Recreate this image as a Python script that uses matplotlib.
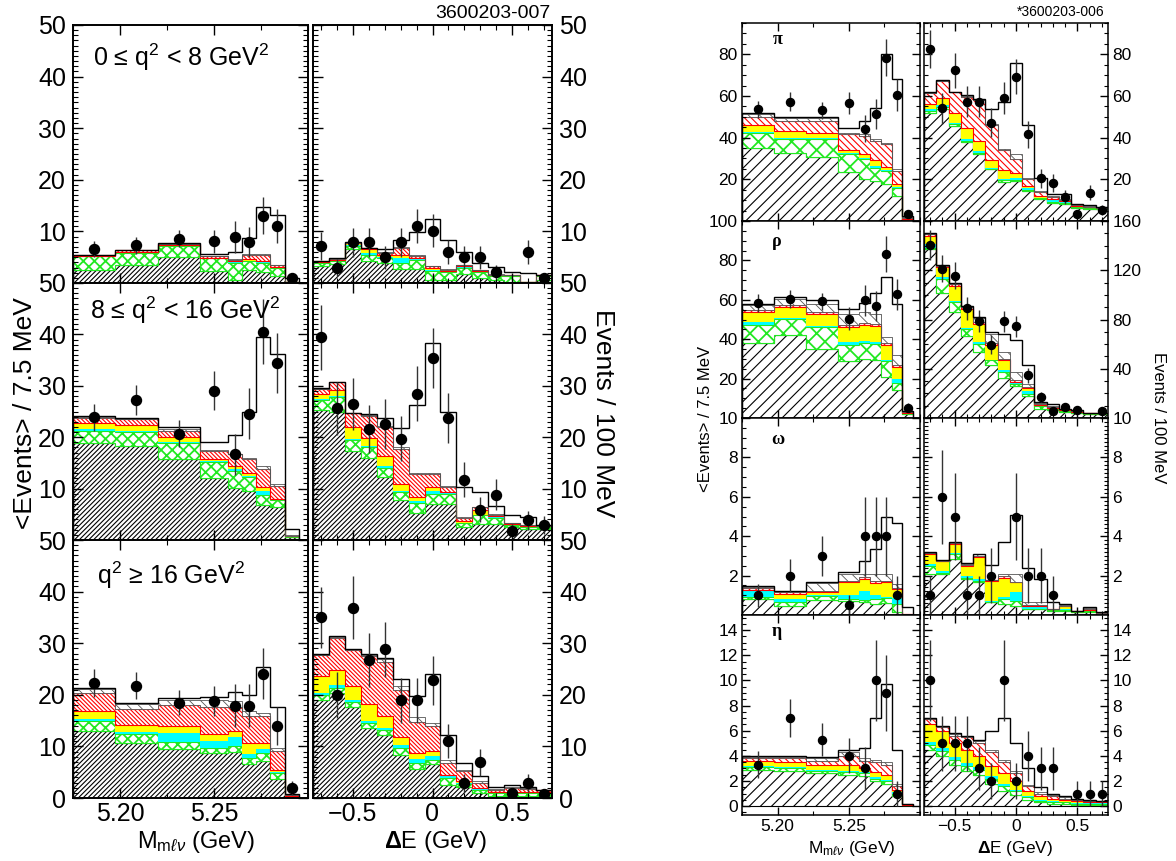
import numpy as np
import matplotlib
matplotlib.use("Agg")
import matplotlib.pyplot as plt
from matplotlib.ticker import MultipleLocator

plt.rcParams['font.family'] = ['Liberation Sans', 'DejaVu Sans']
plt.rcParams['mathtext.fontset'] = 'custom'
plt.rcParams['mathtext.rm'] = 'Liberation Sans'
plt.rcParams['mathtext.it'] = 'Liberation Sans:italic'
plt.rcParams['mathtext.bf'] = 'Liberation Sans:bold'
plt.rcParams['hatch.linewidth'] = 0.8

# -------------------------------
# binning
# -------------------------------
M_EDGES = [5.175, 5.1975, 5.22, 5.2425, 5.2575, 5.265, 5.2725, 5.28, 5.2875, 5.295]
DE_EDGES = [-0.75, -0.65, -0.55, -0.45, -0.35, -0.25, -0.15, -0.05,
            0.05, 0.15, 0.25, 0.35, 0.45, 0.55, 0.65, 0.75]

# stack tops, bottom to top: b->c, continuum/fakes (green), cyan, yellow, red, other signal
# ---- left figure: q^2 bins ----
LO_M_STACK = [
    [2.45, 3.4, 5.0, 2.3, 0.6, 2.5, 2.1, 1.3, 0.1],
    [5.2, 5.8, 7.1, 4.8, 3.9, 4.2, 3.9, 2.9, 0.1],
    [5.25, 5.9, 7.2, 4.85, 4.0, 4.35, 4.0, 2.95, 0.1],
    [5.3, 6.0, 7.3, 4.9, 4.2, 4.7, 4.3, 3.1, 0.1],
    [5.4, 6.3, 7.5, 5.2, 4.5, 5.5, 5.5, 3.4, 0.15],
    [5.45, 6.4, 7.6, 5.3, 4.6, 5.6, 5.6, 3.5, 0.2],
]
LO_M_TOTAL = [5.5, 6.45, 7.7, 5.7, 6.0, 8.7, 14.8, 13.1, 1.0]
LO_M_DATA = [6.6, 7.3, 8.6, 8.1, 9.0, 7.9, 13.0, 11.0, 1.0]
LO_M_ERR = [1.5, 1.6, 1.7, 2.2, 3.1, 2.9, 3.6, 3.3, 1.0]

LO_DE_STACK = [
    [3.2, 3.6, 6.5, 4.2, 3.9, 2.7, 2.7, 0.65, 0.65, 1.8, 1.0, 0.6, 0.1, 0.1, 0.6],
    [3.9, 4.2, 7.1, 5.5, 4.8, 3.9, 4.5, 2.3, 2.1, 3.0, 2.1, 1.3, 1.4, 0.1, 1.4],
    [4.0, 4.3, 7.4, 5.8, 5.0, 4.8, 4.6, 2.5, 2.2, 3.1, 2.2, 1.4, 1.45, 0.1, 1.45],
    [4.1, 4.5, 7.7, 6.5, 5.4, 5.5, 4.8, 2.9, 2.4, 3.2, 2.3, 1.5, 1.5, 0.1, 1.5],
    [4.2, 4.7, 7.8, 6.8, 5.8, 6.8, 5.3, 3.2, 2.6, 3.4, 2.5, 1.6, 1.55, 0.1, 1.55],
    [4.25, 4.75, 7.85, 6.8, 6.0, 6.9, 5.4, 3.3, 2.7, 3.5, 2.6, 1.7, 1.6, 0.15, 1.6],
]
LO_DE_TOTAL = [4.3, 4.8, 7.9, 6.8, 6.6, 8.3, 9.9, 12.4, 8.4, 6.1, 3.9, 3.1, 2.1, 1.9, 1.6]
LO_DE_DATA = [7.1, 3.0, 7.9, 7.9, 5.0, 7.9, 11.0, 10.1, 6.0, 5.0, 5.0, 2.1, np.nan, 6.0, 1.0]
LO_DE_ERR = [2.7, 1.7, 2.8, 2.8, 2.2, 2.8, 3.3, 3.2, 2.4, 2.2, 2.2, 1.4, 0, 2.4, 1.0]

MID_M_STACK = [
    [18.9, 18.3, 15.7, 12.1, 10.1, 9.5, 6.9, 6.4, 0.6],
    [21.3, 21.0, 18.9, 15.1, 13.5, 12.2, 8.7, 7.7, 0.6],
    [21.6, 21.2, 19.1, 15.4, 13.8, 12.5, 9.6, 8.0, 0.6],
    [22.7, 22.4, 20.1, 15.8, 14.4, 13.1, 10.4, 8.0, 0.8],
    [23.8, 23.5, 21.2, 17.3, 16.7, 15.7, 13.8, 10.6, 0.85],
    [24.0, 23.6, 21.6, 17.6, 16.8, 16.0, 14.4, 10.9, 0.9],
]
MID_M_TOTAL = [24.2, 23.7, 21.9, 19.0, 20.5, 24.9, 39.4, 36.2, 2.2]
MID_M_DATA = [23.9, 27.2, 20.7, 29.0, 16.7, 24.6, 40.5, 34.4, np.nan]
MID_M_ERR = [2.6, 2.9, 2.7, 3.8, 4.0, 5.0, 6.3, 5.8, 0]

MID_DE_STACK = [
    [25.3, 25.0, 17.3, 16.0, 12.2, 7.7, 5.3, 7.1, 7.1, 2.6, 3.2, 3.2, 2.6, 2.2, 2.2],
    [27.2, 27.9, 19.4, 18.0, 14.1, 9.4, 7.2, 9.0, 9.0, 3.3, 4.8, 4.3, 2.9, 2.6, 2.6],
    [27.4, 28.1, 19.7, 18.3, 14.4, 9.6, 7.6, 9.6, 9.1, 3.4, 4.9, 4.4, 3.0, 2.65, 2.65],
    [28.5, 29.2, 22.0, 19.9, 16.3, 10.8, 8.3, 10.3, 9.3, 3.6, 5.9, 4.6, 3.1, 2.7, 2.7],
    [29.3, 30.8, 24.7, 24.2, 22.0, 17.8, 12.9, 12.9, 10.4, 4.3, 6.4, 4.9, 3.3, 2.9, 2.8],
    [29.4, 30.8, 24.7, 24.3, 22.2, 18.0, 13.1, 13.0, 10.5, 4.4, 6.5, 5.0, 3.4, 3.0, 2.85],
]
MID_DE_TOTAL = [29.5, 30.8, 24.7, 24.5, 23.8, 21.8, 26.3, 38.3, 25.0, 10.4, 9.3, 6.7, 4.8, 4.4, 2.9]
MID_DE_DATA = [39.4, 25.6, 26.5, 21.6, 22.6, 19.7, 28.5, 35.4, 23.7, 11.7, 5.9, 8.8, 1.8, 3.8, 2.9]
MID_DE_ERR = [6.3, 5.1, 5.1, 4.6, 4.8, 4.4, 5.3, 5.9, 4.9, 3.4, 2.4, 3.0, 1.3, 1.9, 1.7]

HI_M_STACK = [
    [13.0, 10.6, 9.5, 8.7, 9.0, 6.5, 7.2, 3.7, 0.3],
    [15.0, 12.5, 10.8, 9.7, 10.0, 7.7, 8.7, 4.8, 0.35],
    [15.3, 12.7, 12.6, 11.0, 11.9, 8.5, 9.4, 5.1, 0.4],
    [16.8, 14.1, 13.9, 12.5, 12.9, 10.6, 10.6, 5.5, 0.45],
    [20.3, 17.3, 18.1, 17.7, 17.7, 15.8, 15.8, 9.2, 0.65],
    [21.2, 18.2, 19.0, 19.0, 18.8, 16.8, 16.5, 9.7, 0.75],
]
HI_M_TOTAL = [21.4, 18.5, 19.4, 19.5, 20.5, 20.0, 25.4, 17.7, 0.8]
HI_M_DATA = [22.3, 21.8, 18.5, 18.8, 17.9, 17.9, 24.1, 14.0, 1.9]
HI_M_ERR = [2.7, 2.7, 2.5, 3.0, 4.2, 4.2, 4.9, 3.7, 1.4]

HI_DE_STACK = [
    [19.0, 20.3, 17.7, 13.5, 12.3, 8.4, 5.6, 6.5, 2.6, 2.1, 1.0, 0.3, 0.3, 0.3, 0.3],
    [20.0, 21.3, 18.7, 14.5, 13.2, 9.7, 6.8, 7.4, 3.9, 2.8, 1.6, 1.0, 1.0, 1.0, 1.0],
    [20.3, 21.9, 18.9, 15.0, 13.5, 10.3, 7.6, 8.1, 4.2, 2.9, 1.7, 1.1, 1.1, 1.1, 1.1],
    [23.7, 24.8, 21.7, 18.2, 15.8, 11.9, 8.7, 9.2, 4.5, 3.2, 1.9, 1.2, 1.2, 1.2, 1.2],
    [27.7, 31.1, 28.7, 27.6, 26.3, 21.0, 14.8, 13.9, 6.8, 5.2, 2.9, 1.6, 1.9, 1.7, 1.6],
    [27.8, 31.2, 28.8, 27.8, 27.0, 21.7, 15.7, 14.5, 7.4, 5.4, 3.2, 1.8, 2.1, 1.9, 1.6],
]
HI_DE_TOTAL = [27.9, 31.3, 28.8, 27.9, 27.1, 23.0, 19.8, 24.1, 12.3, 6.8, 4.2, 2.1, 2.5, 2.1, 1.6]
HI_DE_DATA = [35.0, 20.0, 36.9, 26.8, 28.8, 18.9, 18.9, 22.8, 11.0, 2.9, 6.9, np.nan, 1.0, 2.9, 0.8]
HI_DE_ERR = [5.9, 4.5, 6.1, 5.2, 5.4, 4.3, 4.3, 4.8, 3.3, 1.7, 2.6, 0, 1.0, 1.7, 0.9]

# ---- right figure: signal modes ----
PI_M_STACK = [
    [34.9, 32.8, 30.9, 23.5, 20.3, 19.2, 17.6, 12.0, 0.8],
    [42.4, 39.5, 39.2, 32.0, 29.9, 25.6, 24.0, 16.0, 0.8],
    [42.9, 40.0, 39.6, 32.5, 30.4, 26.4, 24.5, 16.5, 0.8],
    [46.1, 43.2, 42.4, 33.9, 32.0, 29.1, 25.9, 17.6, 0.9],
    [50.1, 48.0, 48.0, 41.6, 40.8, 38.4, 36.8, 24.0, 1.6],
    [51.2, 49.6, 49.6, 42.1, 41.6, 39.2, 37.3, 25.1, 2.0],
]
PI_M_TOTAL = [51.7, 49.9, 49.9, 44.8, 48.0, 54.4, 80.3, 68.0, 2.4]
PI_M_DATA = [53.6, 57.3, 53.1, 56.8, 44.3, 51.2, 78.4, 60.3, 3.2]
PI_M_ERR = [4.2, 4.4, 4.2, 5.3, 6.6, 7.1, 8.9, 7.7, 1.8]

PI_DE_STACK = [
    [52.0, 53.9, 45.6, 37.9, 32.0, 24.8, 18.7, 19.2, 14.4, 10.4, 8.8, 8.0, 6.4, 5.9, 5.6],
    [52.8, 54.9, 46.4, 38.4, 32.8, 25.0, 19.5, 19.8, 15.0, 10.8, 9.3, 8.4, 6.7, 6.1, 5.8],
    [53.5, 55.5, 47.2, 39.2, 33.6, 25.6, 20.0, 20.8, 16.0, 11.2, 9.9, 8.9, 7.0, 6.3, 6.0],
    [56.3, 59.2, 52.0, 44.8, 38.4, 29.3, 24.5, 23.2, 16.8, 12.0, 10.4, 9.4, 7.3, 6.5, 6.1],
    [61.3, 67.2, 61.9, 59.5, 57.9, 45.9, 34.1, 29.9, 20.0, 13.9, 11.7, 9.9, 7.7, 6.9, 6.4],
    [61.6, 67.4, 61.9, 60.0, 58.2, 46.4, 34.7, 32.0, 20.8, 14.4, 12.2, 10.4, 8.0, 7.2, 6.6],
]
PI_DE_TOTAL = [61.9, 67.5, 61.9, 60.3, 58.4, 53.6, 57.1, 75.7, 45.9, 20.8, 12.8, 12.8, 8.3, 7.7, 6.7]
PI_DE_DATA = [82.4, 54.0, 72.3, 57.3, 57.3, 47.2, 59.2, 69.3, 41.6, 20.5, 18.4, 11.5, 3.5, 13.6, 5.3]
PI_DE_ERR = [9.1, 7.4, 8.5, 7.6, 7.6, 6.9, 7.7, 8.3, 6.4, 4.5, 4.3, 3.4, 1.9, 3.7, 2.3]

RHO_M_STACK = [
    [38.0, 42.2, 35.2, 28.8, 29.7, 29.2, 20.8, 14.2, 2.2],
    [47.2, 50.5, 46.3, 37.2, 38.0, 37.7, 28.8, 18.0, 2.3],
    [48.8, 51.0, 46.8, 38.5, 39.2, 38.5, 29.2, 19.7, 2.4],
    [53.8, 56.3, 53.0, 46.3, 47.2, 46.8, 37.2, 25.8, 2.7],
    [54.7, 57.2, 53.8, 47.2, 48.0, 47.5, 38.0, 26.8, 3.0],
    [57.2, 60.5, 58.0, 53.0, 53.8, 53.0, 41.3, 32.2, 3.3],
]
RHO_M_TOTAL = [58.0, 61.3, 59.7, 55.5, 58.3, 63.5, 71.8, 58.0, 3.5]
RHO_M_DATA = [58.3, 60.5, 59.2, 50.5, 59.7, 56.8, 83.3, 62.7, 5.2]
RHO_M_ERR = [4.4, 4.5, 4.4, 5.8, 7.7, 7.5, 9.1, 7.9, 2.3]

RHO_DE_STACK = [
    [137.3, 101.4, 85.9, 67.0, 53.5, 42.7, 32.4, 25.7, 17.8, 7.6, 6.2, 4.9, 4.1, 3.5, 3.5],
    [138.0, 113.0, 94.1, 72.4, 60.3, 46.8, 37.3, 27.8, 19.7, 9.5, 7.6, 5.5, 4.3, 3.6, 3.6],
    [141.4, 114.3, 95.4, 73.2, 61.6, 47.5, 38.6, 29.2, 21.6, 10.0, 7.9, 5.8, 4.5, 3.7, 3.7],
    [148.1, 122.4, 107.6, 88.6, 76.5, 59.5, 46.8, 29.6, 24.3, 10.5, 8.2, 6.2, 4.8, 3.8, 3.8],
    [149.5, 123.8, 108.9, 90.0, 77.8, 60.8, 48.1, 30.5, 25.1, 11.6, 8.9, 7.6, 5.4, 4.1, 4.3],
    [149.8, 124.1, 109.3, 90.4, 81.1, 68.4, 53.5, 37.3, 27.8, 12.4, 9.5, 7.6, 5.8, 4.1, 4.3],
]
RHO_DE_TOTAL = [150.0, 124.3, 109.7, 90.8, 81.9, 69.7, 68.4, 63.0, 43.2, 13.0, 11.6, 7.6, 6.2, 4.1, 4.3]
RHO_DE_DATA = [140.5, 121.1, 115.7, 89.2, 78.6, 59.5, 78.4, 74.6, 34.6, 17.0, 5.4, 8.9, 6.8, np.nan, 5.7]
RHO_DE_ERR = [11.9, 11.0, 10.8, 9.4, 8.9, 7.7, 8.9, 8.6, 5.9, 4.1, 2.3, 3.0, 2.6, 0, 2.4]

OMEGA_M_STACK = [
    [0.8, 0.47, 0.76, 0.73, 0.67, 0.56, 0.59, 0.13, 0.02],
    [0.9, 0.67, 0.98, 0.81, 0.75, 0.81, 0.85, 0.55, 0.02],
    [1.2, 0.8, 1.02, 1.0, 1.23, 1.0, 0.93, 0.84, 0.03],
    [1.28, 1.06, 1.15, 1.65, 1.85, 1.62, 1.65, 1.32, 0.04],
    [1.35, 1.15, 1.23, 1.74, 1.94, 1.74, 1.74, 1.37, 0.05],
    [1.43, 1.2, 1.6, 2.07, 2.07, 2.07, 2.07, 1.57, 0.06],
]
OMEGA_M_TOTAL = [1.48, 1.23, 1.69, 2.16, 2.75, 3.34, 5.0, 4.69, 0.39]
OMEGA_M_DATA = [1.0, 2.0, 3.0, 0.5, 4.0, 4.0, 4.0, 1.0, np.nan]
OMEGA_M_ERR = [0.58, 0.82, 1.0, 0.5, 2.0, 2.0, 2.0, 1.0, 0]

OMEGA_DE_STACK = [
    [2.1, 2.07, 2.83, 1.82, 1.65, 0.64, 0.56, 0.47, 0.3, 0.28, 0.22, 0.22, 0.15, 0.17, 0.1],
    [2.5, 2.15, 3.08, 1.9, 1.72, 0.68, 0.81, 0.73, 0.32, 0.3, 0.24, 0.24, 0.17, 0.19, 0.11],
    [2.6, 2.24, 3.15, 1.99, 1.82, 0.72, 0.89, 1.15, 0.39, 0.39, 0.27, 0.3, 0.22, 0.25, 0.12],
    [3.1, 2.75, 3.59, 2.5, 2.92, 1.74, 1.9, 1.65, 0.45, 0.45, 0.28, 0.44, 0.22, 0.27, 0.12],
    [3.15, 2.76, 3.68, 2.55, 2.97, 1.78, 1.99, 1.7, 0.5, 0.5, 0.3, 0.46, 0.22, 0.3, 0.12],
    [3.17, 2.77, 3.7, 2.6, 3.08, 1.8, 2.1, 2.07, 0.67, 0.64, 0.32, 0.5, 0.22, 0.35, 0.13],
]
OMEGA_DE_TOTAL = [3.2, 2.78, 3.71, 2.66, 3.12, 2.53, 3.71, 5.1, 2.41, 1.82, 0.64, 0.56, 0.22, 0.42, 0.13]
OMEGA_DE_DATA = [1, 6, 5, 1, 1, 2, np.nan, 5, 2, 2, 1, np.nan, np.nan, np.nan, np.nan]
OMEGA_DE_ERR = [1, 2.4, 2.2, 1, 1, 1.4, 0, 2.2, 1.4, 1.4, 1, 0, 0, 0, 0]

ETA_M_STACK = [
    [2.9, 2.8, 2.6, 2.5, 2.4, 2.0, 1.8, 0.8, 0.1],
    [3.1, 3.0, 2.8, 2.7, 2.6, 2.2, 2.0, 1.0, 0.1],
    [3.2, 3.1, 2.9, 2.8, 2.7, 2.3, 2.1, 1.1, 0.1],
    [3.6, 3.5, 3.3, 3.3, 3.0, 2.7, 2.5, 1.3, 0.1],
    [3.8, 3.8, 3.6, 4.0, 3.6, 3.5, 3.3, 1.6, 0.15],
    [3.95, 3.9, 3.8, 4.3, 3.8, 3.7, 3.5, 1.8, 0.2],
]
ETA_M_TOTAL = [4.0, 4.0, 3.9, 4.5, 4.6, 7.0, 9.7, 4.5, 0.2]
ETA_M_DATA = [3.3, 7.0, 5.3, 4.0, 3.0, 10.0, 9.0, 1.0, np.nan]
ETA_M_ERR = [1.05, 1.5, 1.3, 1.4, 1.7, 3.2, 3.0, 1.0, 0]

ETA_DE_STACK = [
    [4.5, 4.0, 3.3, 2.8, 2.5, 1.8, 1.2, 0.9, 0.5, 0.3, 0.2, 0.2, 0.1, 0.1, 0.1],
    [4.9, 4.4, 3.7, 3.2, 2.9, 2.2, 1.6, 1.2, 0.7, 0.4, 0.3, 0.3, 0.2, 0.2, 0.2],
    [5.1, 4.6, 3.9, 3.4, 3.1, 2.4, 1.8, 1.3, 0.8, 0.5, 0.4, 0.35, 0.25, 0.25, 0.25],
    [6.5, 6.0, 5.0, 4.5, 4.0, 3.2, 2.6, 2.0, 1.2, 0.8, 0.6, 0.5, 0.4, 0.3, 0.3],
    [6.9, 6.3, 5.6, 5.5, 5.0, 4.3, 3.5, 2.6, 1.6, 1.0, 0.8, 0.6, 0.5, 0.4, 0.4],
    [7.0, 6.4, 5.7, 5.6, 5.2, 4.5, 3.7, 2.8, 1.7, 1.1, 0.9, 0.7, 0.55, 0.45, 0.4],
]
ETA_DE_TOTAL = [7.0, 6.4, 5.8, 5.6, 5.3, 6.0, 7.0, 5.0, 3.0, 1.5, 1.0, 0.8, 0.6, 0.5, 0.4]
ETA_DE_DATA = [10, 5, 5, 5, 3, 2, 10, 2, 4, 3, 3, np.nan, 1, 1, 1]
ETA_DE_ERR = [3.2, 2.2, 2.2, 2.2, 1.7, 1.4, 3.2, 1.4, 2.0, 1.7, 1.7, 0, 1, 1, 1]

# layer styles (left figure has finer hatching than the right one)
# 'hlw' is the hatch line width used while the layer is created
BIG_STYLES = [
    dict(facecolor='white', edgecolor='black', hatch='/' * 7, lw=0.8, hlw=0.8),
    dict(facecolor='white', edgecolor='#22e822', hatch='x' * 3, lw=0.8, hlw=1.3),
    dict(facecolor='#00ffff', edgecolor='none', lw=0, hlw=0.8),
    dict(facecolor='#ffff00', edgecolor='none', lw=0, hlw=0.8),
    dict(facecolor='white', edgecolor='#ff0000', hatch='\\' * 8, lw=0.8, hlw=0.8),
    dict(facecolor='white', edgecolor='#555555', hatch='\\' * 3, lw=0.6, hlw=0.6),
]
SMALL_STYLES = [
    dict(facecolor='white', edgecolor='black', hatch='/' * 3, lw=0.8, hlw=0.8),
    dict(facecolor='white', edgecolor='#22e822', hatch='x' * 2, lw=0.8, hlw=1.3),
    dict(facecolor='#00ffff', edgecolor='none', lw=0, hlw=0.8),
    dict(facecolor='#ffff00', edgecolor='none', lw=0, hlw=0.8),
    dict(facecolor='white', edgecolor='#ff0000', hatch='\\' * 5, lw=0.8, hlw=0.8),
    dict(facecolor='white', edgecolor='#555555', hatch='\\' * 3, lw=0.6, hlw=0.6),
]

FIG_W, FIG_H = 1176, 861


def box(x0, y0, x1, y1):
    return [x0 / FIG_W, 1 - y1 / FIG_H, (x1 - x0) / FIG_W, (y1 - y0) / FIG_H]


def fpos(x, y):
    return x / FIG_W, 1 - y / FIG_H


def draw_panel(ax, edges, stack, total, data, err, styles, ms):
    edges = np.asarray(edges)
    base = np.zeros(len(edges) - 1)
    for tops, st in zip(stack, styles):
        st = dict(st)
        hlw = st.pop('hlw')
        tops = np.asarray(tops, float)
        with plt.rc_context({'hatch.linewidth': hlw}):
            ax.stairs(tops, edges, baseline=base, fill=True, **st)
        base = tops
    ax.stairs(total, edges, baseline=0, color='black', lw=1.0)
    centers = 0.5 * (edges[:-1] + edges[1:])
    ax.errorbar(centers, data, yerr=err, fmt='o', color='black', ms=ms,
                ecolor='#333333', elinewidth=1.0, capsize=0, zorder=6)


def setup(ax, kind, ylim, yticks, yminor, right, show_x, big):
    fs = 18 if big else 12.5
    if kind == 'M':
        ax.set_xlim(5.175, 5.30)
        ax.set_xticks([5.20, 5.25])
        ax.set_xticklabels(['5.20', '5.25'])
        ax.xaxis.set_minor_locator(MultipleLocator(0.025))
    else:
        ax.set_xlim(-0.75, 0.75)
        ax.set_xticks([-0.5, 0, 0.5])
        ax.set_xticklabels(['\u22120.5', '0', '0.5'])
        ax.xaxis.set_minor_locator(MultipleLocator(0.1))
    ax.set_ylim(*ylim)
    ax.set_yticks(yticks)
    ax.set_yticklabels([f'{t:g}' for t in yticks])
    ax.yaxis.set_minor_locator(MultipleLocator(yminor))
    lw = 1.4 if big else 1.1
    for s in ax.spines.values():
        s.set_linewidth(lw)
    ax.tick_params(which='both', direction='in', top=True, bottom=True,
                   left=True, right=True, labelsize=fs,
                   labelleft=not right, labelright=right, labelbottom=show_x)
    ax.tick_params(which='major', length=7 if big else 5.5, width=1.0,
                   pad=5 if big else 3)
    ax.tick_params(axis='x', which='major', pad=3)
    ax.tick_params(which='minor', length=3.5 if big else 2.8, width=0.8)


fig = plt.figure(figsize=(11.76, 8.61), dpi=100)

# ---- left figure ----
rows_left = [(25, 283), (283, 540), (540, 798)]
left_panels = [
    (LO_M_STACK, LO_M_TOTAL, LO_M_DATA, LO_M_ERR, LO_DE_STACK, LO_DE_TOTAL, LO_DE_DATA, LO_DE_ERR),
    (MID_M_STACK, MID_M_TOTAL, MID_M_DATA, MID_M_ERR, MID_DE_STACK, MID_DE_TOTAL, MID_DE_DATA, MID_DE_ERR),
    (HI_M_STACK, HI_M_TOTAL, HI_M_DATA, HI_M_ERR, HI_DE_STACK, HI_DE_TOTAL, HI_DE_DATA, HI_DE_ERR),
]
for i, ((y0, y1), p) in enumerate(zip(rows_left, left_panels)):
    last = i == 2
    yt = [0, 10, 20, 30, 40, 50] if last else [10, 20, 30, 40, 50]
    axm = fig.add_axes(box(73, y0, 308, y1))
    draw_panel(axm, M_EDGES, p[0], p[1], p[2], p[3], BIG_STYLES, 7.2)
    setup(axm, 'M', (0, 50), yt, 1, False, last, True)
    axd = fig.add_axes(box(313, y0, 552, y1))
    draw_panel(axd, DE_EDGES, p[4], p[5], p[6], p[7], BIG_STYLES, 7.2)
    setup(axd, 'DE', (0, 50), yt, 1, True, last, True)

q2_labels = ['0 \u2264 q$^2$ < 8 GeV$^2$', '8 \u2264 q$^2$ < 16 GeV$^2$', 'q$^2$ \u2265 16 GeV$^2$']
q2_pos = [(93, 57), (90, 310), (97, 575)]
for lab, (x, y) in zip(q2_labels, q2_pos):
    fig.text(*fpos(x, y), lab, fontsize=18, ha='left', va='center')

fig.text(*fpos(550, 13), '3600203-007', fontsize=14, ha='right', va='center')
fig.text(*fpos(25, 413), '<Events> / 7.5 MeV', fontsize=19, rotation=90,
         ha='center', va='center')
fig.text(*fpos(603, 413), 'Events / 100 MeV', fontsize=19, rotation=-90,
         ha='center', va='center')
fig.text(*fpos(196, 842), r'M$_{\mathrm{m}\ell\nu}$ (GeV)', fontsize=17,
         ha='center', va='center')
fig.text(*fpos(435, 842), r'$\mathbf{\Delta}$E (GeV)', fontsize=17,
         ha='center', va='center')

# ---- right figure ----
rows_right = [(23, 221), (221, 418), (418, 615), (615, 815)]
right_panels = [
    (PI_M_STACK, PI_M_TOTAL, PI_M_DATA, PI_M_ERR, PI_DE_STACK, PI_DE_TOTAL, PI_DE_DATA, PI_DE_ERR),
    (RHO_M_STACK, RHO_M_TOTAL, RHO_M_DATA, RHO_M_ERR, RHO_DE_STACK, RHO_DE_TOTAL, RHO_DE_DATA, RHO_DE_ERR),
    (OMEGA_M_STACK, OMEGA_M_TOTAL, OMEGA_M_DATA, OMEGA_M_ERR, OMEGA_DE_STACK, OMEGA_DE_TOTAL, OMEGA_DE_DATA, OMEGA_DE_ERR),
    (ETA_M_STACK, ETA_M_TOTAL, ETA_M_DATA, ETA_M_ERR, ETA_DE_STACK, ETA_DE_TOTAL, ETA_DE_DATA, ETA_DE_ERR),
]
# (ylim, yticks, minor) for the M column and the Delta E column
right_axes_cfg = [
    (((0, 95), [20, 40, 60, 80], 5), ((0, 95), [20, 40, 60, 80], 5)),
    (((0, 100), [20, 40, 60, 80, 100], 5), ((0, 160), [40, 80, 120, 160], 10)),
    (((0, 10), [2, 4, 6, 8, 10], 0.5), ((0, 10), [2, 4, 6, 8, 10], 0.2)),
    (((-0.7, 15.2), [0, 2, 4, 6, 8, 10, 12, 14], 0.5), ((-0.7, 15.2), [0, 2, 4, 6, 8, 10, 12, 14], 0.5)),
]
for i, ((y0, y1), p, cfg) in enumerate(zip(rows_right, right_panels, right_axes_cfg)):
    last = i == 3
    axm = fig.add_axes(box(742, y0, 920, y1))
    draw_panel(axm, M_EDGES, p[0], p[1], p[2], p[3], SMALL_STYLES, 5.8)
    setup(axm, 'M', cfg[0][0], cfg[0][1], cfg[0][2], False, last, False)
    axd = fig.add_axes(box(924, y0, 1108, y1))
    draw_panel(axd, DE_EDGES, p[4], p[5], p[6], p[7], SMALL_STYLES, 5.8)
    setup(axd, 'DE', cfg[1][0], cfg[1][1], cfg[1][2], True, last, False)

mode_labels = ['\u03c0', '\u03c1', '\u03c9', '\u03b7']
mode_pos = [(778, 40), (777, 242), (778, 440), (777, 632)]
for lab, (x, y) in zip(mode_labels, mode_pos):
    fig.text(*fpos(x, y), lab, fontsize=13, fontweight='bold',
             family=['Liberation Serif', 'DejaVu Serif'], ha='center', va='center')

fig.text(*fpos(1104, 12), '*3600203-006', fontsize=10, ha='right', va='center')
fig.text(*fpos(705, 419), '<Events> / 7.5 MeV', fontsize=12, rotation=90,
         ha='center', va='center')
fig.text(*fpos(1158, 418), 'Events / 100 MeV', fontsize=12, rotation=-90,
         ha='center', va='center')
fig.text(*fpos(852, 848), r'M$_{\mathrm{m}\ell\nu}$ (GeV)', fontsize=12.5,
         ha='center', va='center')
fig.text(*fpos(1015, 848), r'$\mathbf{\Delta}$E (GeV)', fontsize=12.5,
         ha='center', va='center')

fig.savefig('out.png', dpi=100)
